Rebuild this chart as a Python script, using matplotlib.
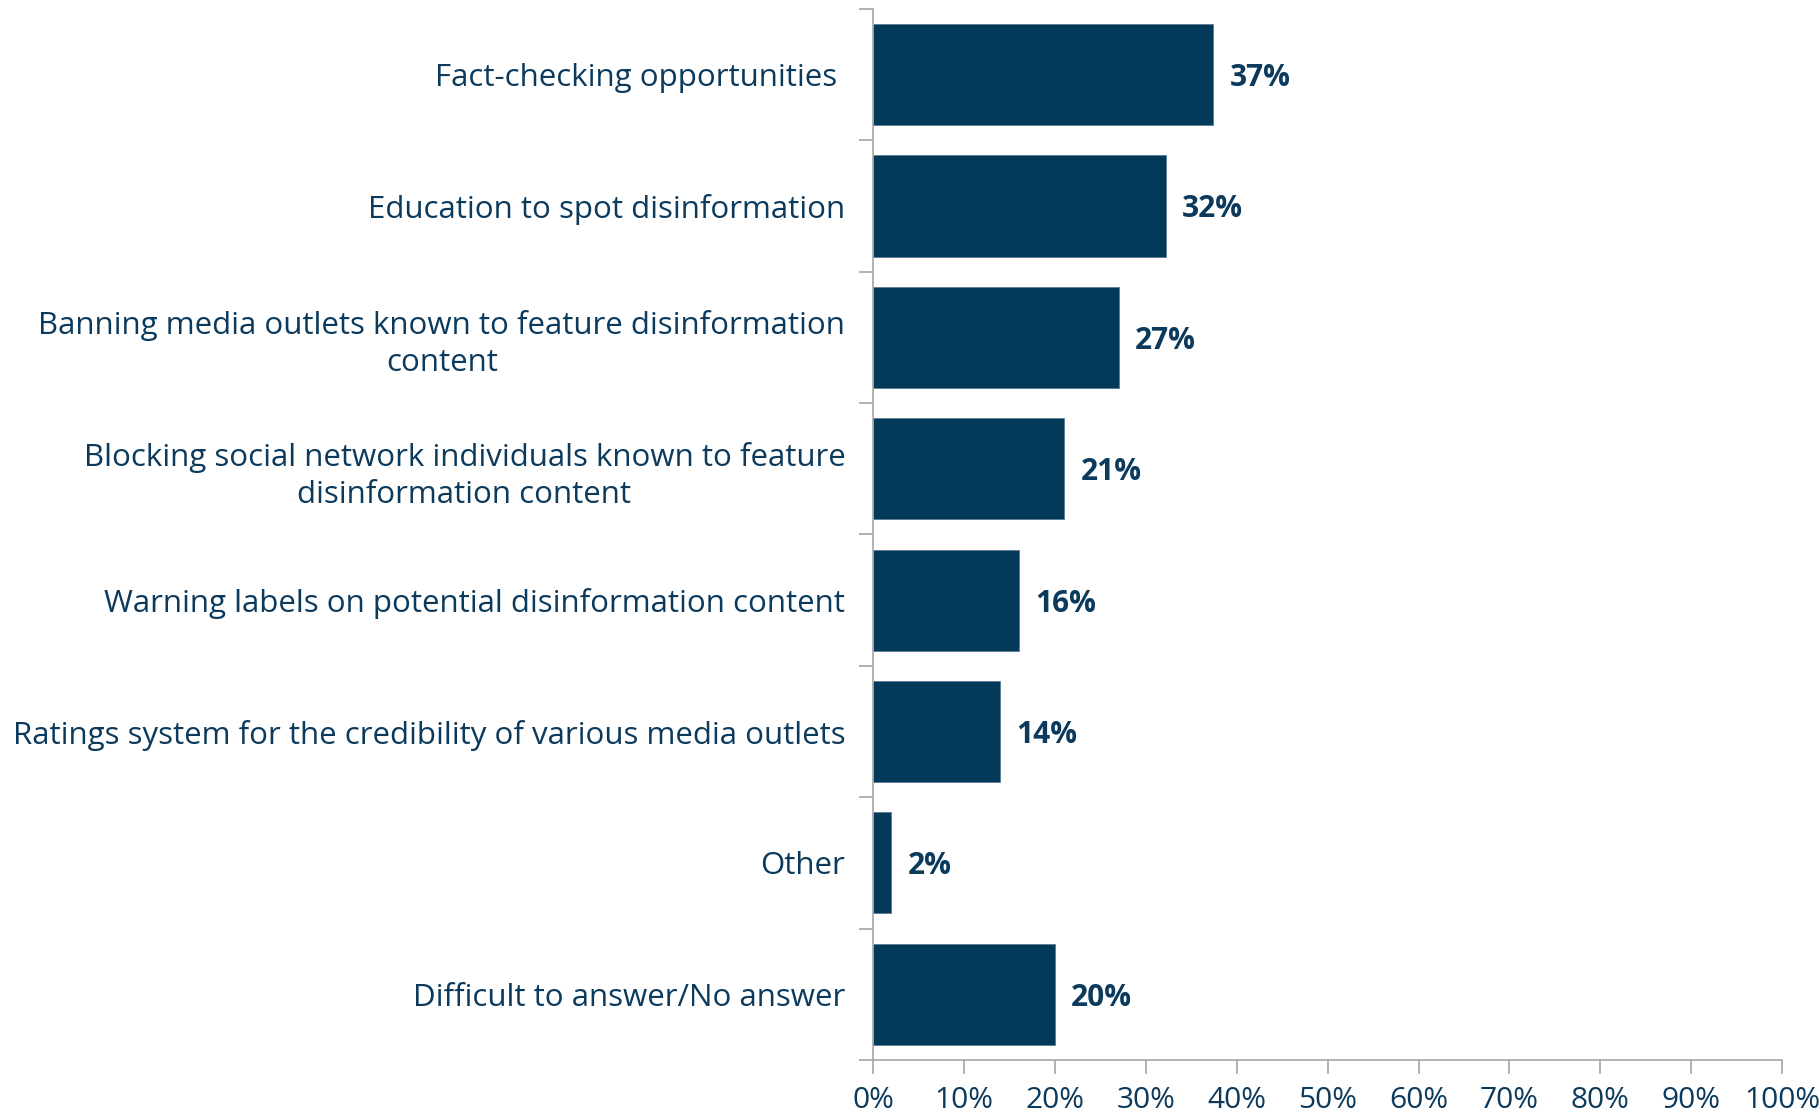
import numpy as np
import matplotlib
matplotlib.use("Agg")
import matplotlib.pyplot as plt
from matplotlib.ticker import FixedLocator, NullFormatter

categories = [
    "Fact-checking opportunities ",
    "Education to spot disinformation",
    "Banning media outlets known to feature disinformation\ncontent",
    "Blocking social network individuals known to feature\ndisinformation content",
    "Warning labels on potential disinformation content",
    "Ratings system for the credibility of various media outlets",
    "Other",
    "Difficult to answer/No answer",
]
values = [37.4, 32.2, 27.0, 21.0, 16.0, 14.0, 2.0, 20.0]
value_labels = ["37%", "32%", "27%", "21%", "16%", "14%", "2%", "20%"]
xticks = [0, 10, 20, 30, 40, 50, 60, 70, 80, 90, 100]
xtick_labels = ["0%", "10%", "20%", "30%", "40%", "50%", "60%", "70%", "80%", "90%", "100%"]

NAVY = "#033a5a"
TEXT = "#0b3a5c"
GREY = "#a3a6ad"
FONT = ["Open Sans", "DejaVu Sans"]

plt.rcParams["font.family"] = FONT

fig = plt.figure(figsize=(18.2, 11.14), dpi=100)
ax = fig.add_axes([0.4797, 0.0485, 0.4995, 0.9435])

n = len(categories)
ypos = np.arange(n)
ax.barh(ypos, values, height=0.77, color=NAVY, edgecolor="#5a7a90", linewidth=0.6)
ax.set_ylim(n - 0.5, -0.5)
ax.set_xlim(0, 100)

for y, v, lab in zip(ypos, values, value_labels):
    ax.text(v + 1.8, y, lab, va="center_baseline", ha="left", fontsize=21.5,
            fontweight="bold", color=TEXT)

# boundary ticks on y, labels at centres
ax.yaxis.set_major_locator(FixedLocator(np.arange(n + 1) - 0.5))
ax.yaxis.set_major_formatter(NullFormatter())
ax.yaxis.set_minor_locator(FixedLocator(ypos))
ax.set_yticks(ypos, categories, minor=True)
ax.tick_params(axis="y", which="major", length=10, color=GREY, width=1.2)
ax.tick_params(axis="y", which="minor", length=0, pad=20, labelsize=22.5,
               labelcolor=TEXT)
for t in ax.get_yticklabels(minor=True):
    t.set_horizontalalignment("right")
    t.set_multialignment("center")
    t.set_linespacing(1.3)

ax.set_xticks(xticks, xtick_labels)
ax.tick_params(axis="x", length=10, color=GREY, width=1.2, pad=9,
               labelsize=21.5, labelcolor=TEXT)

for s in ["top", "right"]:
    ax.spines[s].set_visible(False)
for s in ["left", "bottom"]:
    ax.spines[s].set_color(GREY)
    ax.spines[s].set_linewidth(1.2)

fig.savefig("out.png", dpi=100, facecolor="white")
